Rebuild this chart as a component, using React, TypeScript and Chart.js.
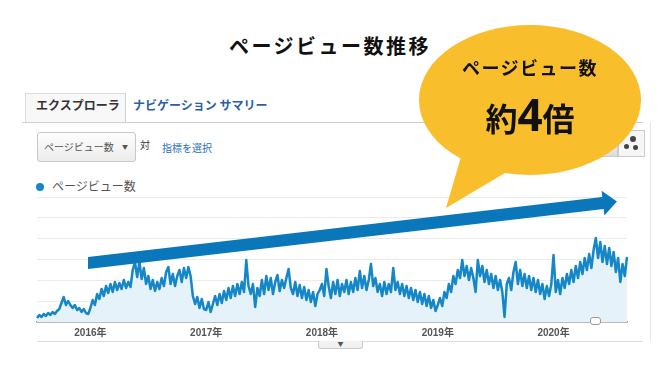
import React, { useEffect, useRef } from 'react';
import { Chart, registerables } from 'chart.js';

Chart.register(...registerables);

// Weekly page views (unit: 125 = top gridline, 6 gridline bands)
const pv2015 = [4, 7, 5, 8, 6, 9, 7, 10, 8, 11, 13, 19, 25, 17, 21, 17, 14, 17, 12, 14, 10, 13, 9, 8];
const pv2016 = [14, 22, 17, 28, 23, 33, 26, 36, 29, 38, 30, 40, 32, 39, 33, 42, 34, 40, 35, 52, 60, 45, 60, 43, 54, 38,
  46, 33, 42, 31, 40, 33, 44, 36, 50, 55, 38, 48, 36, 46, 52, 40, 54, 44, 55, 46, 26, 18, 25, 14, 23, 13];
const pv2017 = [12, 20, 10, 18, 26, 17, 28, 19, 31, 22, 34, 24, 36, 26, 38, 28, 40, 30, 62, 36, 28, 38, 15, 34,
  26, 42, 28, 46, 32, 44, 28, 40, 47, 31, 42, 34, 44, 53, 34, 28, 40, 26, 37, 24, 35, 22, 32, 20, 30, 16, 28, 32];
const pv2018 = [38, 26, 53, 36, 24, 40, 28, 42, 26, 38, 30, 42, 28, 40, 30, 44, 32, 51, 34, 46, 32, 42,
  58, 36, 44, 30, 38, 26, 40, 28, 38, 30, 54, 32, 40, 28, 38, 26, 36, 24, 34, 22, 32, 20, 30, 18, 28, 16, 26, 14, 22, 11];
const pv2019 = [17, 24, 16, 30, 24, 38, 30, 46, 38, 52, 44, 62, 46, 56, 42, 54, 44, 30, 62, 46,
  56, 40, 52, 38, 48, 34, 46, 32, 42, 30, 5, 38, 44, 32, 50, 60, 38, 52, 36, 48, 34, 46, 32, 44, 30, 42, 28, 38, 23, 36, 26, 38];
const pv2020 = [67, 30, 42, 28, 44, 34, 48, 38, 52, 40, 56, 44, 60, 48, 64, 52, 68, 54,
  72, 84, 64, 80, 60, 76, 58, 74, 56, 70, 50, 64, 40, 58, 46, 65];

const pageviews = [...pv2015, ...pv2016, ...pv2017, ...pv2018, ...pv2019, ...pv2020];
const startDate = Date.UTC(2015, 6, 12);
const weeks = pageviews.map((_, i) => new Date(startDate + i * 7 * 86400000).toISOString().slice(0, 10));

const yearTickIndex = [24, 76, 128, 180, 232];
const yearTickLabels = ['2016年', '2017年', '2018年', '2019年', '2020年'];
const yMax = 125;
const gridBands = 6;

const JP = '"Noto Sans CJK JP", "Noto Sans", sans-serif';
const LINE = '#1586c6';

export default function App() {
  const canvasRef = useRef<HTMLCanvasElement | null>(null);

  useEffect(() => {
    document.body.style.margin = '0';
    const canvas = canvasRef.current;
    if (!canvas) return;
    const chart = new Chart(canvas, {
      type: 'line',
      data: {
        labels: weeks,
        datasets: [
          {
            data: pageviews,
            borderColor: LINE,
            borderWidth: 2.5,
            backgroundColor: '#e6f2f9',
            fill: 'origin',
            pointRadius: 0,
            tension: 0,
            borderJoinStyle: 'round',
          },
        ],
      },
      options: {
        responsive: false,
        animation: false,
        layout: { padding: { left: 37, right: 45, top: 197, bottom: 36 } },
        plugins: { legend: { display: false }, tooltip: { enabled: false } },
        scales: {
          x: {
            type: 'category',
            grid: { display: false, drawTicks: false },
            border: { display: true, color: '#8c8c8c', width: 1.5 },
            ticks: {
              autoSkip: false,
              maxRotation: 0,
              minRotation: 0,
              padding: 5,
              color: '#555',
              font: { family: '"Liberation Sans", Arial, "Noto Sans CJK JP"', size: 10, weight: 'bold' },
              callback: (_v: any, i: number) => {
                const k = yearTickIndex.indexOf(i);
                return k >= 0 ? yearTickLabels[k] : '';
              },
            },
          },
          y: {
            min: 0,
            max: yMax,
            afterBuildTicks: (axis: any) => {
              axis.ticks = Array.from({ length: gridBands + 1 }, (_, k) => ({ value: (k * yMax) / gridBands }));
            },
            grid: { color: '#ebebeb', drawTicks: false },
            border: { display: false },
            ticks: { display: false },
          },
        },
      },
    } as any);
    return () => chart.destroy();
  }, []);

  const abs = (s: React.CSSProperties): React.CSSProperties => ({ position: 'absolute', ...s });

  return (
    <div style={abs({ left: 0, top: 0, width: 672, height: 380, overflow: 'hidden', background: '#fff', fontFamily: JP })}>
      {/* Title */}
      <div style={abs({ left: 0, top: 33, width: 660, textAlign: 'center', fontSize: 20, fontWeight: 700, letterSpacing: 2.5, lineHeight: '26px', color: '#111' })}>
        ページビュー数推移
      </div>

      {/* Tabs */}
      <div style={abs({ left: 25, top: 93, width: 101, height: 29, boxSizing: 'border-box', borderTop: '1px solid #dadada', borderLeft: '1px solid #dadada', borderRight: '1px solid #cfcfcf', background: '#f8f8f8' })} />
      <div style={abs({ left: 36, top: 93, lineHeight: '24px', fontSize: 12, fontWeight: 700, color: '#333', whiteSpace: 'nowrap' })}>エクスプローラ</div>
      <div style={abs({ left: 133, top: 93, lineHeight: '24px', fontSize: 12, fontWeight: 700, color: '#2b5fa6', whiteSpace: 'nowrap' })}>ナビゲーション サマリー</div>
      <div style={abs({ left: 22, top: 122, width: 621, height: 1, background: '#cfcfcf' })} />
      <div style={abs({ left: 650, top: 122, width: 1, height: 219, background: '#e6e6e6' })} />

      {/* Metric selector */}
      <div style={abs({ left: 37, top: 132, width: 99, height: 30, boxSizing: 'border-box', border: '1px solid #c8c8c8', borderRadius: 3, background: 'linear-gradient(#fefefe, #ececec)' })} />
      <div style={abs({ left: 44, top: 137, lineHeight: '20px', fontSize: 10, color: '#555', whiteSpace: 'nowrap' })}>ページビュー数</div>
      <div style={abs({ left: 122, top: 137, lineHeight: '20px', fontSize: 6, color: '#555' })}>▼</div>
      <div style={abs({ left: 140, top: 135, lineHeight: '20px', fontSize: 10, color: '#333' })}>対</div>
      <div style={abs({ left: 162, top: 138, lineHeight: '20px', fontSize: 10, color: '#2d6fb8', whiteSpace: 'nowrap' })}>指標を選択</div>

      {/* Right buttons */}
      <div style={abs({ left: 596, top: 130, width: 22, height: 27, boxSizing: 'border-box', border: '1px solid #cccccc', background: 'linear-gradient(#f4f4f4, #dedede)' })} />
      <div style={abs({ left: 618, top: 130, width: 27, height: 27, boxSizing: 'border-box', border: '1px solid #cccccc', background: '#f6f6f6' })} />
      <div style={abs({ left: 630, top: 136, width: 6, height: 6, borderRadius: 3, background: '#444' })} />
      <div style={abs({ left: 624, top: 144, width: 5, height: 5, borderRadius: 3, background: '#444' })} />
      <div style={abs({ left: 633, top: 145, width: 5, height: 5, borderRadius: 3, background: '#444' })} />

      {/* Legend */}
      <div style={abs({ left: 36, top: 183, width: 8, height: 8, borderRadius: 4, background: LINE })} />
      <div style={abs({ left: 52, top: 175, lineHeight: '22px', fontSize: 12, color: '#555', whiteSpace: 'nowrap' })}>ページビュー数</div>

      {/* Bottom bar */}
      <div style={abs({ left: 37, top: 341, width: 606, height: 1, background: '#dcdcdc' })} />
      <div style={abs({ left: 318, top: 341, width: 45, height: 8, boxSizing: 'border-box', border: '1px solid #cccccc', borderTop: 'none', borderRadius: '0 0 3px 3px', background: '#f2f2f2' })} />
      <div style={abs({ left: 318, top: 339, width: 45, textAlign: 'center', fontSize: 6, lineHeight: '10px', color: '#555' })}>▼</div>

      <canvas ref={canvasRef} width={672} height={380} style={abs({ left: 0, top: 0, width: 672, height: 380 })} />

      {/* Annotation marker */}
      <div style={abs({ left: 590, top: 317, width: 11, height: 8, boxSizing: 'border-box', border: '1px solid #999', borderRadius: 3, background: '#fff' })} />

      <svg width={672} height={380} style={abs({ left: 0, top: 0, pointerEvents: 'none' })}>
        <polygon
          points="88,257 602.3,197.1 601.6,190.7 616.9,201.5 604.4,215.5 603.7,209.1 88,269"
          fill="#0a77ba"
        />
        <ellipse cx={530} cy={100} rx={111} ry={75} fill="#f9be2b" />
        <polygon points="463,150 510,170 446,208" fill="#f9be2b" />
      </svg>

      {/* Bubble text */}
      <div style={abs({ left: 430, top: 54, width: 200, textAlign: 'center', fontSize: 18, fontWeight: 700, letterSpacing: 1.5, lineHeight: '26px', color: '#111' })}>
        ページビュー数
      </div>
      <div style={abs({ left: 430, top: 90, width: 200, textAlign: 'center', lineHeight: '48px', color: '#111', fontWeight: 700, whiteSpace: 'nowrap' })}>
        <span style={{ fontSize: 32 }}>約</span>
        <span style={{ fontSize: 44, fontFamily: '"Noto Sans", "Liberation Sans", sans-serif' }}>4</span>
        <span style={{ fontSize: 32 }}>倍</span>
      </div>
    </div>
  );
}
